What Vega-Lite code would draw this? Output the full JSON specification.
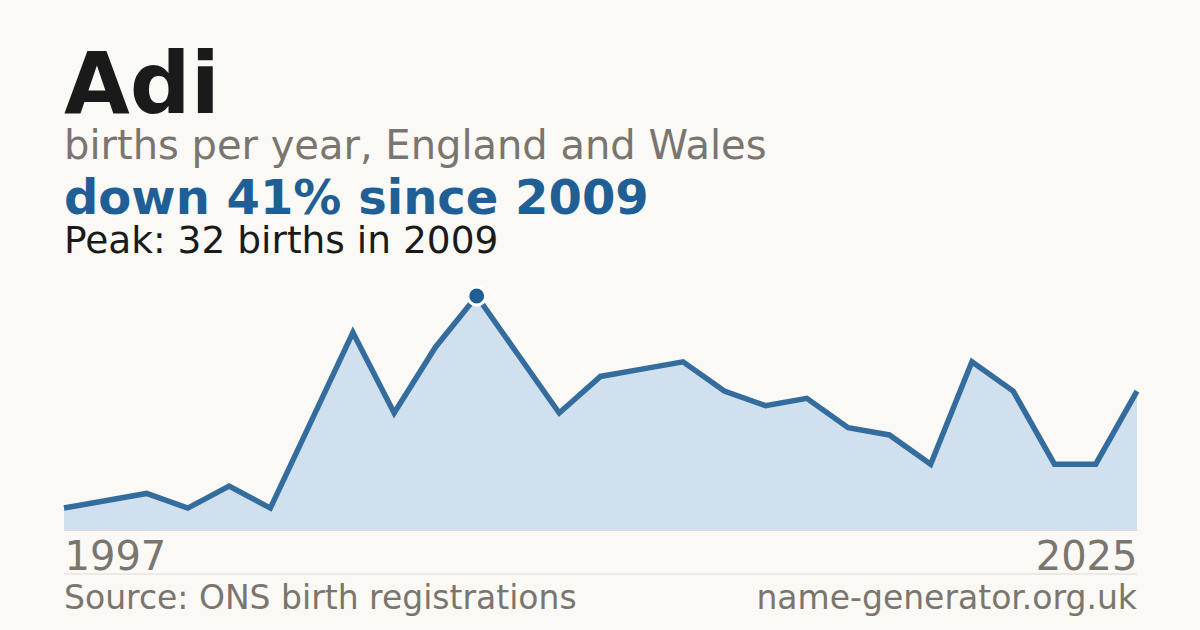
{
  "$schema": "https://vega.github.io/schema/vega-lite/v6.json",
  "width": 1073,
  "height": 234,
  "autosize": {"type": "none"},
  "padding": {"left": 64, "top": 296, "right": 63, "bottom": 100},
  "background": "#FAF9F5",
  "config": {
    "view": {"stroke": null},
    "font": "DejaVu Sans",
    "text": {"font": "DejaVu Sans"}
  },
  "layer": [
    {
      "data": {
        "values": [
          {"year": 1997, "births": 3},
          {"year": 1999, "births": 4},
          {"year": 2001, "births": 5},
          {"year": 2002, "births": 3},
          {"year": 2003, "births": 6},
          {"year": 2004, "births": 3},
          {"year": 2005, "births": 15},
          {"year": 2006, "births": 27},
          {"year": 2007, "births": 16},
          {"year": 2008, "births": 25},
          {"year": 2009, "births": 32},
          {"year": 2010, "births": 24},
          {"year": 2011, "births": 16},
          {"year": 2012, "births": 21},
          {"year": 2013, "births": 22},
          {"year": 2014, "births": 23},
          {"year": 2015, "births": 19},
          {"year": 2016, "births": 17},
          {"year": 2017, "births": 18},
          {"year": 2018, "births": 14},
          {"year": 2019, "births": 13},
          {"year": 2020, "births": 9},
          {"year": 2021, "births": 23},
          {"year": 2022, "births": 19},
          {"year": 2023, "births": 9},
          {"year": 2024, "births": 9},
          {"year": 2025, "births": 19}
        ]
      },
      "encoding": {
        "x": {
          "field": "year",
          "type": "ordinal",
          "scale": {"type": "point", "padding": 0},
          "axis": {
            "title": null,
            "values": [1997, 2025],
            "labelAngle": 0,
            "labelFontSize": 40,
            "labelColor": "#7A756E",
            "labelBaseline": "alphabetic",
            "labelAlign": {"expr": "datum.value == 1997 ? 'left' : 'right'"},
            "labelPadding": 39,
            "ticks": false,
            "tickSize": 0,
            "grid": false,
            "domainColor": "#DEDAD2",
            "domainWidth": 1
          }
        },
        "y": {
          "field": "births",
          "type": "quantitative",
          "scale": {"domain": [0, 32], "nice": false},
          "axis": null
        }
      },
      "layer": [
        {"mark": {"type": "area", "color": "#D0E0EF", "opacity": 1}},
        {"mark": {"type": "line", "color": "#356C9E", "strokeWidth": 5.5, "strokeJoin": "miter"}},
        {
          "transform": [{"filter": "datum.year == 2009"}],
          "mark": {"type": "point", "shape": "circle", "filled": true, "size": 320, "color": "#1F5F96", "stroke": "#FFFFFF", "strokeWidth": 3, "opacity": 1}
        }
      ]
    },
    {
      "data": {"values": [{}]},
      "mark": {"type": "rule", "color": "#DEDAD2", "strokeWidth": 1},
      "encoding": {
        "x": {"value": 0},
        "x2": {"value": "width"},
        "y": {"value": 278}
      }
    },
    {
      "data": {"values": [{"t": "Adi"}]},
      "mark": {"type": "text", "x": 0, "y": -183, "align": "left", "baseline": "alphabetic", "fontSize": 85, "fontWeight": "bold", "color": "#1A1A1A"},
      "encoding": {"text": {"field": "t"}}
    },
    {
      "data": {"values": [{"t": "births per year, England and Wales"}]},
      "mark": {"type": "text", "x": 0, "y": -137, "align": "left", "baseline": "alphabetic", "fontSize": 40, "color": "#7A756E"},
      "encoding": {"text": {"field": "t"}}
    },
    {
      "data": {"values": [{"t": "down 41% since 2009"}]},
      "mark": {"type": "text", "x": 0, "y": -82, "align": "left", "baseline": "alphabetic", "fontSize": 48, "fontWeight": "bold", "color": "#1F5F96"},
      "encoding": {"text": {"field": "t"}}
    },
    {
      "data": {"values": [{"t": "Peak: 32 births in 2009"}]},
      "mark": {"type": "text", "x": 0, "y": -43, "align": "left", "baseline": "alphabetic", "fontSize": 37.5, "color": "#1A1A1A"},
      "encoding": {"text": {"field": "t"}}
    },
    {
      "data": {"values": [{"t": "Source: ONS birth registrations"}]},
      "mark": {"type": "text", "x": 0, "y": 313, "align": "left", "baseline": "alphabetic", "fontSize": 33, "color": "#7A756E"},
      "encoding": {"text": {"field": "t"}}
    },
    {
      "data": {"values": [{"t": "name-generator.org.uk"}]},
      "mark": {"type": "text", "x": "width", "y": 313, "align": "right", "baseline": "alphabetic", "fontSize": 33, "color": "#7A756E"},
      "encoding": {"text": {"field": "t"}}
    }
  ]
}
